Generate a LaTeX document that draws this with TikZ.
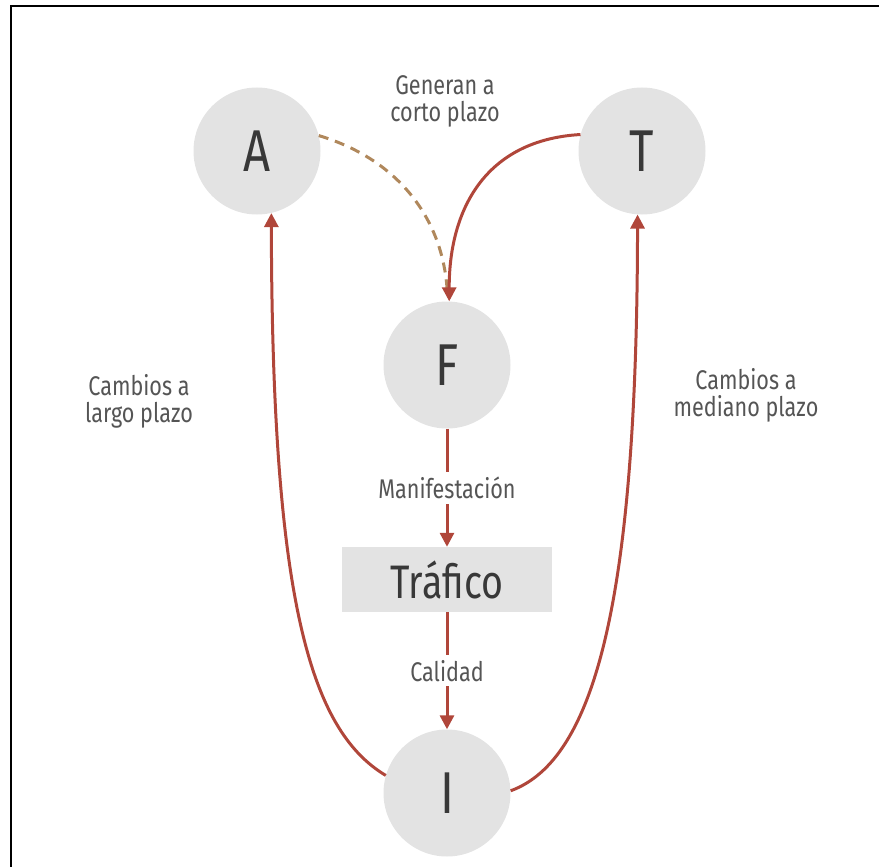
\documentclass[tikz,border=0pt]{standalone}
\usepackage{fontspec}
\setmainfont{Fira Sans}[FakeStretch=0.8]
\usetikzlibrary{arrows.meta}
\definecolor{circfill}{HTML}{E3E3E3}
\definecolor{linkred}{RGB}{176,70,58}
\definecolor{linktan}{RGB}{176,136,92}
\definecolor{txt}{HTML}{555555}
\definecolor{big}{HTML}{383838}
\tikzset{
  state/.style={circle, fill=circfill, minimum size=127pt, inner sep=0pt,
    text=big, font=\fontsize{59}{59}\selectfont},
  boxnode/.style={rectangle, fill=circfill, minimum width=210pt, minimum height=65pt,
    inner sep=0pt, text=big, font=\fontsize{47}{47}\selectfont},
  lbl/.style={text=txt, font=\fontsize{27}{27}\selectfont, align=center},
  cut/.style={lbl, fill=white, inner sep=5pt},
  link/.style={draw=linkred, line width=3pt, -{Triangle[length=14pt,width=14pt]}},
  weak/.style={draw=linktan, line width=3pt, dash pattern=on 10pt off 7pt}
}
\begin{document}
\begin{tikzpicture}[x=1pt,y=-1pt]
\useasboundingbox (0,0) rectangle (879,867);
% frame
\draw[line width=2.8pt] (11,870) -- (11,6) -- (882,6);

% nodes
\node[state] (A) at (257,151) {A};
\node[state] (T) at (642,151) {T};
\node[state] (F) at (447,365) {F};
\node[boxnode] (Tr) at (447,579.5) {Tráfico};
\node[state] (I) at (447,793) {I};

% labels
\node[lbl] (gen) at (445,101) {Generan a\\corto plazo};
\node[lbl] (lp) at (139,401) {Cambios a\\largo plazo};
\node[lbl] (mp) at (746,395) {Cambios a\\mediano plazo};

% connectors
\draw[weak] (A.14) .. controls (400,160) and (442,220) .. (447,288);
\draw[link] (T.165) .. controls (485,140) and (449,210) .. (F.88);
\draw[link] (F) -- node[cut] (man) {Manifestación} (Tr);
\draw[link] (Tr) -- node[cut] (cal) {Calidad} (I);
\draw[link] (I.164) .. controls (310,730) and (272,600) .. (A.-77);
\draw[link] (I.2) .. controls (595,760) and (637,600) .. (T.-94);
\end{tikzpicture}
\end{document}
